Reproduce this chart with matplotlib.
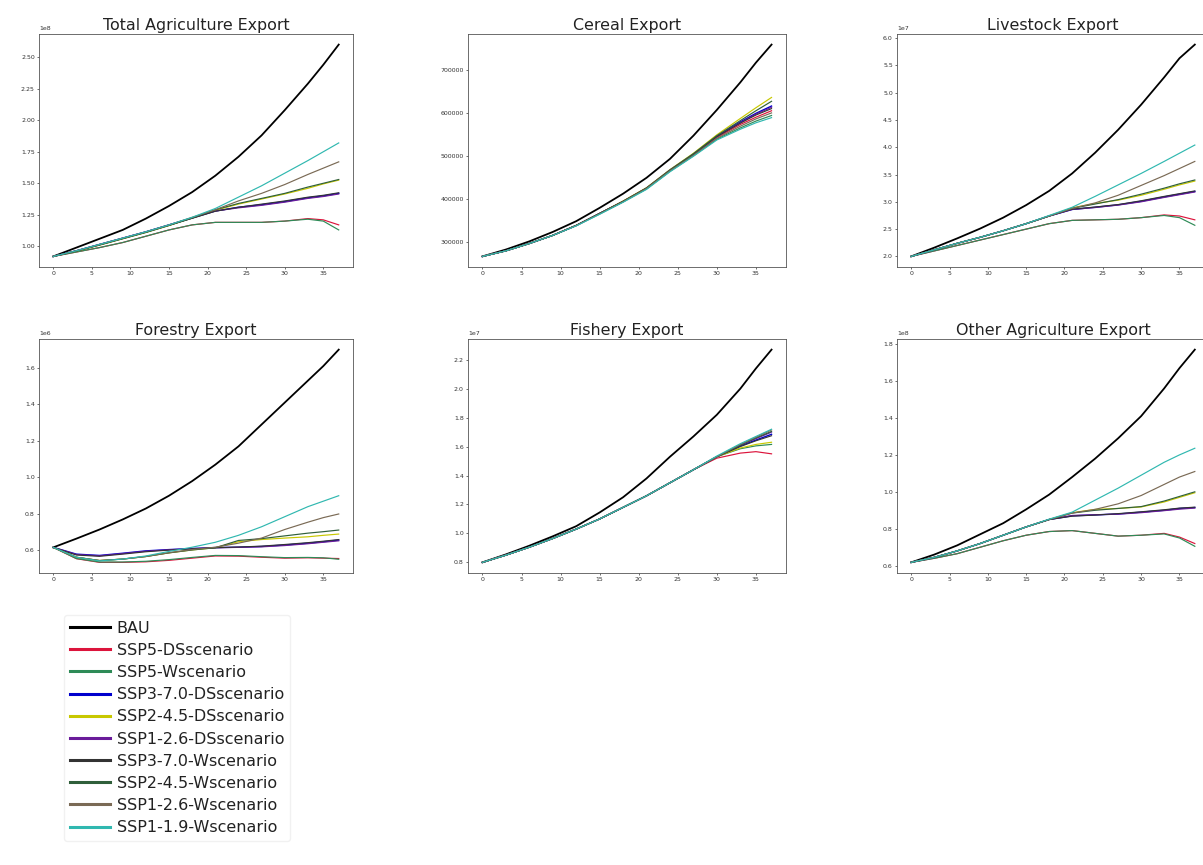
import matplotlib
matplotlib.use("Agg")
import matplotlib.pyplot as plt

# ---------------- data ----------------
X_POINTS = [0, 3, 6, 9, 12, 15, 18, 21, 24, 27, 30, 33, 35, 37]

SCENARIOS = [
    "BAU",
    "SSP5-DSscenario",
    "SSP5-Wscenario",
    "SSP3-7.0-DSscenario",
    "SSP2-4.5-DSscenario",
    "SSP1-2.6-DSscenario",
    "SSP3-7.0-Wscenario",
    "SSP2-4.5-Wscenario",
    "SSP1-2.6-Wscenario",
    "SSP1-1.9-Wscenario",
]

PANEL_TITLES = [
    "Total Agriculture Export",
    "Cereal Export",
    "Livestock Export",
    "Forestry Export",
    "Fishery Export",
    "Other Agriculture Export",
]

PANEL_SCALES = [1e8, 1, 1e7, 1e6, 1e7, 1e8]

# rows follow SCENARIOS order
TOTAL = [
    [0.92, 0.99, 1.06, 1.13, 1.22, 1.32, 1.43, 1.56, 1.71, 1.88, 2.08, 2.29, 2.44, 2.60],
    [0.92, 0.955, 0.99, 1.03, 1.08, 1.13, 1.17, 1.19, 1.19, 1.19, 1.20, 1.22, 1.21, 1.17],
    [0.92, 0.955, 0.99, 1.03, 1.08, 1.13, 1.17, 1.19, 1.19, 1.19, 1.20, 1.215, 1.20, 1.13],
    [0.92, 0.965, 1.015, 1.065, 1.115, 1.17, 1.225, 1.28, 1.31, 1.33, 1.355, 1.385, 1.40, 1.42],
    [0.92, 0.962, 1.01, 1.06, 1.11, 1.165, 1.225, 1.285, 1.335, 1.375, 1.415, 1.46, 1.495, 1.525],
    [0.92, 0.965, 1.015, 1.065, 1.115, 1.17, 1.225, 1.28, 1.305, 1.325, 1.35, 1.38, 1.395, 1.415],
    [0.92, 0.963, 1.012, 1.062, 1.112, 1.167, 1.222, 1.278, 1.31, 1.335, 1.36, 1.39, 1.405, 1.425],
    [0.92, 0.962, 1.01, 1.06, 1.11, 1.165, 1.225, 1.29, 1.34, 1.38, 1.42, 1.47, 1.50, 1.53],
    [0.92, 0.965, 1.015, 1.065, 1.115, 1.17, 1.23, 1.29, 1.36, 1.42, 1.49, 1.57, 1.62, 1.67],
    [0.92, 0.965, 1.015, 1.065, 1.115, 1.17, 1.23, 1.30, 1.39, 1.48, 1.58, 1.68, 1.75, 1.82],
]

CEREAL = [
    [267000, 283000, 302000, 324000, 349000, 380000, 413000, 450000, 494000, 548000, 608000, 672000, 718000, 760000],
    [267000, 280000, 297000, 316000, 339000, 367000, 395000, 425000, 466000, 503000, 544000, 574000, 591000, 606000],
    [267000, 280000, 297000, 316000, 339000, 366000, 394000, 424000, 465000, 501000, 540000, 566000, 582000, 595000],
    [267000, 280000, 297000, 316000, 339000, 367000, 395000, 426000, 468000, 505000, 547000, 580000, 600000, 617000],
    [267000, 280000, 297000, 316000, 339000, 367000, 396000, 427000, 469000, 507000, 550000, 588000, 613000, 637000],
    [267000, 280000, 297000, 316000, 339000, 367000, 395000, 426000, 468000, 505000, 546000, 578000, 598000, 614000],
    [267000, 280000, 297000, 316000, 339000, 367000, 395000, 426000, 467000, 504000, 546000, 577000, 596000, 611000],
    [267000, 280000, 297000, 316000, 339000, 367000, 395000, 426000, 468000, 506000, 548000, 583000, 606000, 628000],
    [267000, 280000, 297000, 316000, 339000, 366000, 394000, 425000, 466000, 502000, 542000, 570000, 587000, 601000],
    [267000, 280000, 297000, 316000, 338000, 365000, 393000, 423000, 464000, 500000, 538000, 563000, 578000, 590000],
]

LIVESTOCK = [
    [2.00, 2.16, 2.33, 2.51, 2.71, 2.94, 3.20, 3.52, 3.90, 4.32, 4.78, 5.28, 5.63, 5.88],
    [2.00, 2.10, 2.20, 2.30, 2.40, 2.50, 2.60, 2.66, 2.67, 2.68, 2.71, 2.76, 2.74, 2.67],
    [2.00, 2.10, 2.20, 2.30, 2.40, 2.50, 2.60, 2.66, 2.67, 2.68, 2.71, 2.75, 2.71, 2.57],
    [2.00, 2.12, 2.24, 2.35, 2.47, 2.60, 2.74, 2.86, 2.90, 2.945, 3.01, 3.09, 3.14, 3.19],
    [2.00, 2.12, 2.24, 2.35, 2.47, 2.60, 2.74, 2.89, 2.97, 3.03, 3.12, 3.23, 3.31, 3.38],
    [2.00, 2.12, 2.24, 2.35, 2.47, 2.60, 2.74, 2.86, 2.895, 2.94, 3.00, 3.08, 3.13, 3.18],
    [2.00, 2.12, 2.24, 2.35, 2.47, 2.60, 2.74, 2.865, 2.905, 2.95, 3.02, 3.10, 3.15, 3.20],
    [2.00, 2.12, 2.24, 2.35, 2.47, 2.60, 2.74, 2.88, 2.96, 3.04, 3.14, 3.25, 3.33, 3.40],
    [2.00, 2.12, 2.24, 2.35, 2.47, 2.60, 2.74, 2.88, 2.98, 3.12, 3.30, 3.48, 3.61, 3.74],
    [2.00, 2.12, 2.24, 2.35, 2.47, 2.60, 2.75, 2.90, 3.10, 3.31, 3.52, 3.74, 3.89, 4.04],
]

FORESTRY = [
    [0.617, 0.665, 0.715, 0.77, 0.83, 0.90, 0.98, 1.07, 1.17, 1.29, 1.41, 1.53, 1.61, 1.70],
    [0.617, 0.555, 0.535, 0.535, 0.538, 0.546, 0.558, 0.570, 0.569, 0.563, 0.558, 0.560, 0.558, 0.556],
    [0.617, 0.556, 0.537, 0.537, 0.541, 0.550, 0.562, 0.573, 0.572, 0.566, 0.561, 0.562, 0.560, 0.552],
    [0.617, 0.580, 0.573, 0.585, 0.598, 0.605, 0.611, 0.616, 0.618, 0.622, 0.630, 0.640, 0.648, 0.657],
    [0.617, 0.563, 0.545, 0.553, 0.567, 0.587, 0.603, 0.615, 0.648, 0.660, 0.668, 0.675, 0.683, 0.690],
    [0.617, 0.578, 0.571, 0.583, 0.596, 0.604, 0.610, 0.615, 0.617, 0.620, 0.627, 0.637, 0.645, 0.653],
    [0.617, 0.575, 0.568, 0.580, 0.593, 0.602, 0.609, 0.615, 0.619, 0.624, 0.633, 0.643, 0.651, 0.660],
    [0.617, 0.563, 0.545, 0.553, 0.567, 0.587, 0.603, 0.615, 0.655, 0.665, 0.680, 0.695, 0.703, 0.712],
    [0.617, 0.563, 0.545, 0.553, 0.567, 0.588, 0.605, 0.618, 0.640, 0.668, 0.715, 0.755, 0.780, 0.800],
    [0.617, 0.563, 0.543, 0.553, 0.570, 0.595, 0.618, 0.645, 0.683, 0.730, 0.785, 0.840, 0.870, 0.900],
]

FISHERY = [
    [0.80, 0.855, 0.915, 0.98, 1.05, 1.145, 1.25, 1.38, 1.53, 1.67, 1.82, 2.00, 2.14, 2.27],
    [0.80, 0.85, 0.905, 0.965, 1.03, 1.10, 1.18, 1.26, 1.35, 1.44, 1.52, 1.555, 1.565, 1.55],
    [0.80, 0.85, 0.905, 0.965, 1.03, 1.10, 1.18, 1.26, 1.35, 1.44, 1.53, 1.585, 1.605, 1.615],
    [0.80, 0.85, 0.905, 0.965, 1.03, 1.10, 1.18, 1.26, 1.35, 1.44, 1.53, 1.605, 1.645, 1.685],
    [0.80, 0.85, 0.905, 0.965, 1.03, 1.10, 1.18, 1.26, 1.35, 1.44, 1.53, 1.59, 1.615, 1.63],
    [0.80, 0.85, 0.905, 0.965, 1.03, 1.10, 1.18, 1.26, 1.35, 1.44, 1.53, 1.61, 1.655, 1.70],
    [0.80, 0.85, 0.905, 0.965, 1.03, 1.10, 1.18, 1.26, 1.35, 1.44, 1.53, 1.60, 1.64, 1.675],
    [0.80, 0.85, 0.905, 0.965, 1.03, 1.10, 1.18, 1.26, 1.35, 1.44, 1.53, 1.61, 1.66, 1.705],
    [0.80, 0.85, 0.905, 0.965, 1.03, 1.10, 1.18, 1.26, 1.35, 1.44, 1.53, 1.615, 1.665, 1.715],
    [0.80, 0.85, 0.905, 0.965, 1.03, 1.10, 1.18, 1.26, 1.35, 1.44, 1.535, 1.62, 1.67, 1.72],
]

OTHER = [
    [0.618, 0.66, 0.71, 0.77, 0.83, 0.905, 0.985, 1.08, 1.18, 1.29, 1.41, 1.56, 1.67, 1.77],
    [0.618, 0.64, 0.665, 0.70, 0.735, 0.765, 0.785, 0.79, 0.775, 0.76, 0.765, 0.775, 0.755, 0.72],
    [0.618, 0.64, 0.665, 0.70, 0.735, 0.765, 0.785, 0.79, 0.775, 0.76, 0.765, 0.772, 0.75, 0.705],
    [0.618, 0.645, 0.68, 0.72, 0.765, 0.81, 0.85, 0.87, 0.875, 0.88, 0.89, 0.90, 0.91, 0.915],
    [0.618, 0.645, 0.68, 0.72, 0.765, 0.81, 0.85, 0.887, 0.905, 0.91, 0.918, 0.945, 0.97, 0.995],
    [0.618, 0.645, 0.68, 0.72, 0.765, 0.81, 0.85, 0.872, 0.876, 0.879, 0.887, 0.898, 0.906, 0.912],
    [0.618, 0.645, 0.68, 0.72, 0.765, 0.81, 0.85, 0.868, 0.874, 0.882, 0.892, 0.903, 0.912, 0.917],
    [0.618, 0.645, 0.68, 0.72, 0.765, 0.81, 0.85, 0.885, 0.90, 0.91, 0.92, 0.95, 0.975, 1.00],
    [0.618, 0.645, 0.68, 0.72, 0.765, 0.81, 0.85, 0.885, 0.905, 0.935, 0.98, 1.04, 1.08, 1.11],
    [0.618, 0.645, 0.68, 0.72, 0.765, 0.81, 0.852, 0.89, 0.955, 1.02, 1.09, 1.16, 1.20, 1.236],
]

PANELS = [TOTAL, CEREAL, LIVESTOCK, FORESTRY, FISHERY, OTHER]

# ---------------- style ----------------
COLORS = [
    "black", "crimson", "seagreen", "mediumblue", "#c8c800",
    "#6a1b9a", "#333333", "#2f5f3a", "#7a6a55", "#30b8b0",
]
LINEWIDTHS = [1.3, 0.85, 0.85, 1.0, 0.85, 0.85, 0.8, 0.85, 0.85, 0.85]

W, H = 1203, 865
fig = plt.figure(figsize=(W / 100, H / 100), dpi=100)

# axes rectangles in pixels: (left, top, width, height)
cols = [(39, 314), (468, 318), (897, 312)]
rows = [(34, 233), (339, 234)]

handles = []
for i, (title, data, scale) in enumerate(zip(PANEL_TITLES, PANELS, PANEL_SCALES)):
    r, c = divmod(i, 3)
    left, wpx = cols[c]
    top, hpx = rows[r]
    ax = fig.add_axes([left / W, 1 - (top + hpx) / H, wpx / W, hpx / H])
    for k, series in enumerate(data):
        line, = ax.plot(X_POINTS, [v * scale for v in series], color=COLORS[k],
                        lw=LINEWIDTHS[k], label=SCENARIOS[k])
        if i == 0:
            handles.append(line)
    ax.set_title(title, fontsize=11.4, pad=3, color="#222222")
    ax.tick_params(labelsize=4.5, length=1.5, width=0.5, pad=1.5, colors="#333333")
    ax.yaxis.get_offset_text().set_fontsize(4.5)
    for sp in ax.spines.values():
        sp.set_linewidth(0.6)
        sp.set_color("#555555")

leg = fig.legend(handles=handles, labels=SCENARIOS, loc="upper left",
                 bbox_to_anchor=(56 / W, 1 - 607 / H), fontsize=11.5,
                 labelspacing=0.45, handlelength=2.5, handletextpad=0.45,
                 frameon=True, borderpad=0.35)
leg.get_frame().set_edgecolor("#eeeeee")
for text in leg.get_texts():
    text.set_color("#222222")
for ln in leg.get_lines():
    ln.set_linewidth(2.2)

fig.savefig("out.png", dpi=100)
